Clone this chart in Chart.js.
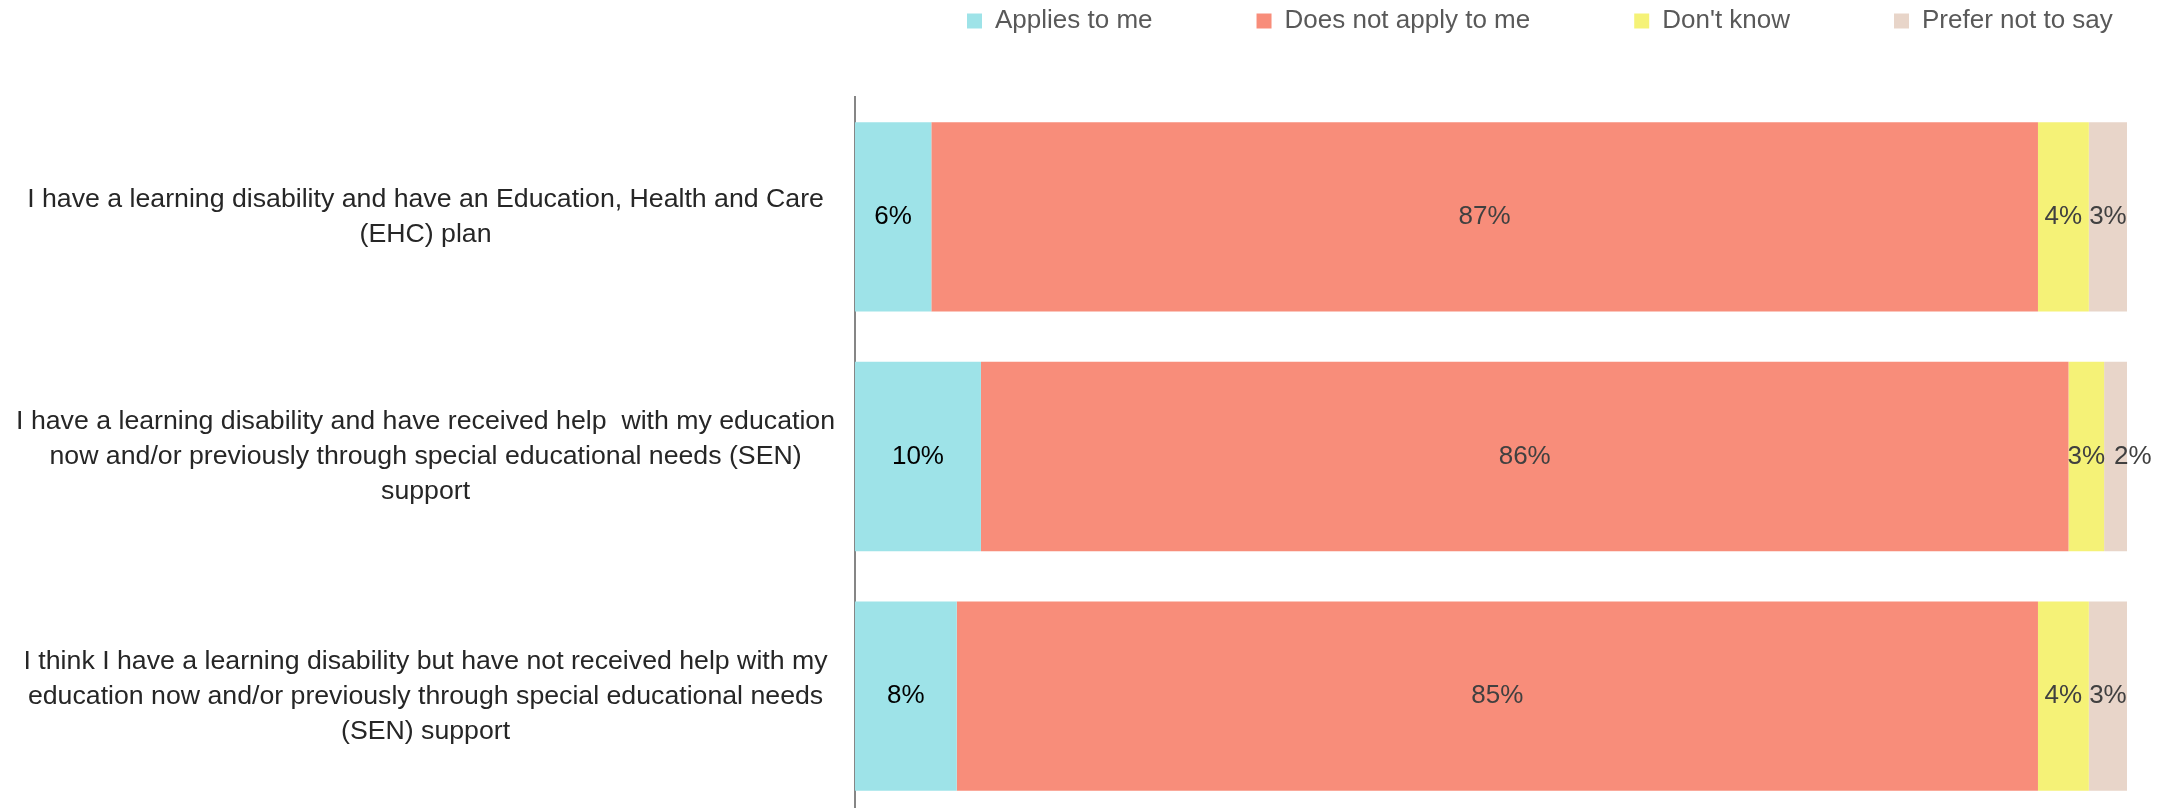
<!DOCTYPE html>
<html>
<head>
<meta charset="utf-8">
<script src="https://cdn.jsdelivr.net/npm/chart.js@4.4.1/dist/chart.umd.min.js"></script>
<style>
  html, body { margin: 0; padding: 0; background: #fff; }
  canvas { display: block; }
</style>
</head>
<body>
<canvas id="chart" width="2175" height="808"></canvas>
<script>
const statements = [
  ["I have a learning disability and have an Education, Health and Care", "(EHC) plan"],
  ["I have a learning disability and have received help  with my education", "now and/or previously through special educational needs (SEN)", "support"],
  ["I think I have a learning disability but have not received help with my", "education now and/or previously through special educational needs", "(SEN) support"]
];
const seriesNames = ["Applies to me", "Does not apply to me", "Don't know", "Prefer not to say"];
const appliesToMe = [6.0, 9.9, 8.0];
const doesNotApply = [87.0, 85.5, 85.0];
const dontKnow = [4.0, 2.8, 4.0];
const preferNotToSay = [3.0, 1.8, 3.0];
const seriesColors = ["#9ee3e8", "#f88d7a", "#f5f277", "#e8d5c9"];

const FONT = '"Liberation Sans", Arial, sans-serif';
Chart.defaults.font.family = FONT;

// percentages written in the middle of each segment, pushed right if they would collide
const segmentLabels = {
  id: 'segmentLabels',
  afterDatasetsDraw(chart) {
    const ctx = chart.ctx;
    ctx.save();
    ctx.font = '26px ' + FONT;
    ctx.textBaseline = 'middle';
    ctx.textAlign = 'left';
    for (let i = 0; i < chart.data.labels.length; i++) {
      let prevEnd = -Infinity;
      chart.data.datasets.forEach((ds, d) => {
        const bar = chart.getDatasetMeta(d).data[i];
        const text = Math.round(ds.data[i]) + '%';
        const w = ctx.measureText(text).width;
        let left = (bar.x + bar.base) / 2 - w / 2;
        if (left < prevEnd + 2) left = prevEnd + 9;
        ctx.fillStyle = d === 0 ? '#000000' : '#404040';
        ctx.fillText(text, left, bar.y);
        prevEnd = left + w;
      });
    }
    ctx.restore();
  }
};

// legend in the top right corner with wide gaps; plot runs a bit past the bottom edge
const layoutTweak = {
  id: 'layoutTweak',
  afterLayout(chart) {
    const lg = chart.legend;
    const pad = lg.options.labels.padding;
    lg.left = 967 - pad;
    lg.right = chart.width + 400;
    lg.top = 21 - pad - 13;

    const y = chart.scales.y;
    y.bottom = chart.height + 8;
    y.height = y.bottom - y.top;
    y.configure();
    chart.chartArea.bottom = y.bottom;
    chart.chartArea.height = y.bottom - chart.chartArea.top;
  }
};

new Chart(document.getElementById('chart'), {
  type: 'bar',
  data: {
    labels: statements,
    datasets: [
      { label: seriesNames[0], data: appliesToMe, backgroundColor: seriesColors[0] },
      { label: seriesNames[1], data: doesNotApply, backgroundColor: seriesColors[1] },
      { label: seriesNames[2], data: dontKnow, backgroundColor: seriesColors[2] },
      { label: seriesNames[3], data: preferNotToSay, backgroundColor: seriesColors[3] }
    ]
  },
  options: {
    indexAxis: 'y',
    responsive: false,
    animation: false,
    barPercentage: 0.79,
    categoryPercentage: 1,
    layout: { padding: { top: 10, right: 48, left: 0, bottom: 0 } },
    scales: {
      x: {
        stacked: true,
        min: 0,
        max: 100,
        display: false
      },
      y: {
        stacked: true,
        grid: { display: false, drawTicks: false },
        border: { display: true, color: '#868686', width: 2 },
        ticks: {
          crossAlign: 'center',
          padding: 20,
          color: '#262626',
          font: { size: 26.7, lineHeight: 1.31 }
        },
        afterFit(scale) {
          scale.width = 855;
          scale.paddingTop = 0;
          scale.paddingBottom = 0;
        }
      }
    },
    plugins: {
      tooltip: { enabled: false },
      legend: {
        position: 'top',
        align: 'start',
        maxHeight: 87,
        labels: {
          boxWidth: 15,
          boxHeight: 15,
          padding: 104,
          color: '#595959',
          font: { size: 26 }
        }
      }
    }
  },
  plugins: [segmentLabels, layoutTweak]
});
</script>
</body>
</html>
